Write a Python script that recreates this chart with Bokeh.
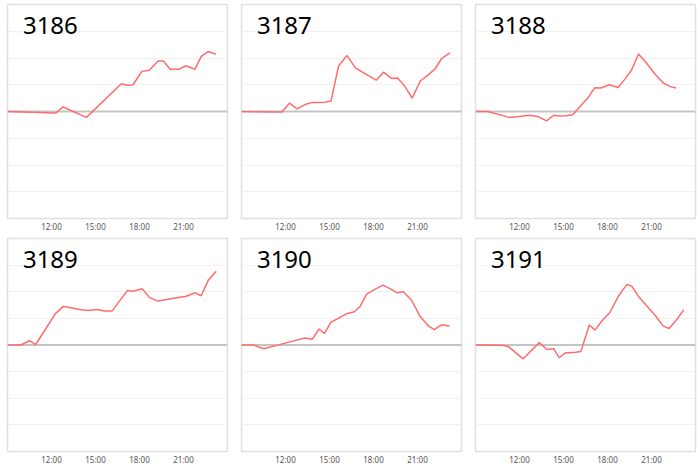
from bokeh.plotting import figure
from bokeh.layouts import gridplot
from bokeh.models import Range1d, FixedTicker, Span, Label
from bokeh.embed import file_html
from bokeh.resources import INLINE

# ---- data (hours of day, relative change) ----
titles = ["3186", "3187", "3188", "3189", "3190", "3191"]

x3186 = [9.0, 12.28, 12.8, 14.38, 16.76, 17.17, 17.55, 18.16, 18.66, 19.27, 19.63, 20.09, 20.7, 21.17, 21.78, 22.21, 22.67, 23.21]
y3186 = [0.0, -0.06, 0.17, -0.22, 1.04, 0.98, 0.99, 1.50, 1.54, 1.89, 1.89, 1.58, 1.58, 1.71, 1.58, 2.06, 2.24, 2.14]

x3187 = [9.0, 11.75, 12.27, 12.79, 13.33, 13.83, 14.70, 15.10, 15.62, 16.19, 16.76, 17.21, 18.19, 18.68, 19.25, 19.64, 20.10, 20.64, 21.19, 21.69, 22.18, 22.66, 23.21]
y3187 = [0.0, -0.02, 0.31, 0.10, 0.26, 0.34, 0.35, 0.39, 1.70, 2.09, 1.64, 1.48, 1.17, 1.47, 1.23, 1.25, 0.97, 0.50, 1.14, 1.35, 1.58, 1.99, 2.19]

x3188 = [9.0, 9.84, 11.3, 12.73, 13.3, 13.85, 14.33, 14.71, 15.21, 15.62, 16.67, 17.13, 17.54, 18.13, 18.72, 19.2, 19.65, 20.11, 20.63, 21.22, 21.82, 22.27, 22.68]
y3188 = [0.0, 0.0, -0.22, -0.14, -0.20, -0.35, -0.14, -0.17, -0.16, -0.12, 0.51, 0.89, 0.88, 1.00, 0.90, 1.22, 1.56, 2.15, 1.83, 1.41, 1.06, 0.93, 0.88]

x3189 = [9.0, 9.91, 10.5, 10.91, 12.27, 12.8, 13.32, 13.93, 14.5, 15.09, 15.59, 16.14, 17.18, 17.59, 18.18, 18.68, 19.25, 20.14, 21.18, 21.8, 22.2, 22.68, 23.23]
y3189 = [0.0, 0.0, 0.16, 0.01, 1.18, 1.45, 1.40, 1.33, 1.30, 1.33, 1.28, 1.28, 2.05, 2.02, 2.11, 1.78, 1.65, 1.74, 1.83, 1.96, 1.85, 2.42, 2.77]

x3190 = [9.0, 9.79, 10.52, 11.97, 13.33, 13.83, 14.29, 14.65, 15.1, 15.63, 16.15, 16.69, 17.08, 17.53, 18.12, 18.65, 19.15, 19.62, 20.03, 20.6, 21.19, 21.74, 22.14, 22.64, 23.18]
y3190 = [0.0, 0.0, -0.14, 0.07, 0.26, 0.22, 0.60, 0.43, 0.86, 1.01, 1.17, 1.25, 1.44, 1.91, 2.10, 2.25, 2.11, 1.96, 2.00, 1.68, 1.06, 0.72, 0.58, 0.76, 0.71]

x3191 = [9.0, 10.84, 11.25, 12.25, 13.35, 13.87, 14.33, 14.71, 15.1, 15.81, 16.19, 16.76, 17.15, 17.63, 18.17, 18.74, 19.31, 19.65, 20.13, 20.65, 21.24, 21.79, 22.2, 22.68, 23.2]
y3191 = [0.0, -0.01, -0.06, -0.52, 0.09, -0.17, -0.14, -0.48, -0.30, -0.27, -0.24, 0.75, 0.56, 0.91, 1.23, 1.83, 2.27, 2.21, 1.81, 1.48, 1.12, 0.72, 0.62, 0.93, 1.32]

tick_hours = [12, 15, 18, 21]
tick_labels = ["12:00", "15:00", "18:00", "21:00"]
grid_levels = [-3, -2, -1, 0, 1, 2, 3]

series = [(x3186, y3186), (x3187, y3187), (x3188, y3188),
          (x3189, y3189), (x3190, y3190), (x3191, y3191)]

FW = 220
FH = [214, 213]


def make_panel(i):
    col = i % 3
    row = i // 3
    p = figure(frame_width=FW, frame_height=FH[row],
               x_range=Range1d(9, 24), y_range=Range1d(-4, 4),
               y_axis_location=None, toolbar_location=None,
               output_backend="svg",
               min_border_left=7, min_border_top=4,
               min_border_right=(7 if col < 2 else 4),
               min_border_bottom=10)
    p.background_fill_color = "white"
    p.border_fill_color = "white"
    p.outline_line_color = "#e0e0e0"
    p.outline_line_width = 1.5
    p.xgrid.visible = False
    p.ygrid.ticker = FixedTicker(ticks=grid_levels)
    p.ygrid.grid_line_color = "#f1f1f1"
    p.ygrid.grid_line_width = 1

    ax = p.xaxis[0]
    ax.ticker = FixedTicker(ticks=tick_hours)
    ax.major_label_overrides = {h: t for h, t in zip(tick_hours, tick_labels)}
    ax.axis_line_color = None
    ax.major_tick_line_color = None
    ax.minor_tick_line_color = None
    ax.major_tick_out = 0
    ax.major_tick_in = 0
    ax.minor_tick_out = 0
    ax.minor_tick_in = 0
    ax.major_label_text_font = "Noto Sans"
    ax.major_label_text_font_size = "8px"
    ax.major_label_text_color = "#555555"
    ax.major_label_standoff = 2

    p.add_layout(Span(location=0, dimension="width", level="underlay",
                      line_color="#c4c4c4", line_width=2))
    xs, ys = series[i]
    p.line(xs, ys, line_color="#ff6c6c", line_width=1.5)
    p.add_layout(Label(x=10.05, y=3.22, text=titles[i],
                       text_font="Noto Sans", text_font_size="24px",
                       text_color="black", text_baseline="alphabetic"))
    return p


panels = [make_panel(i) for i in range(6)]
grid = gridplot([panels[0:3], panels[3:6]], toolbar_location=None)

open("out.html", "w").write(file_html(grid, INLINE))
